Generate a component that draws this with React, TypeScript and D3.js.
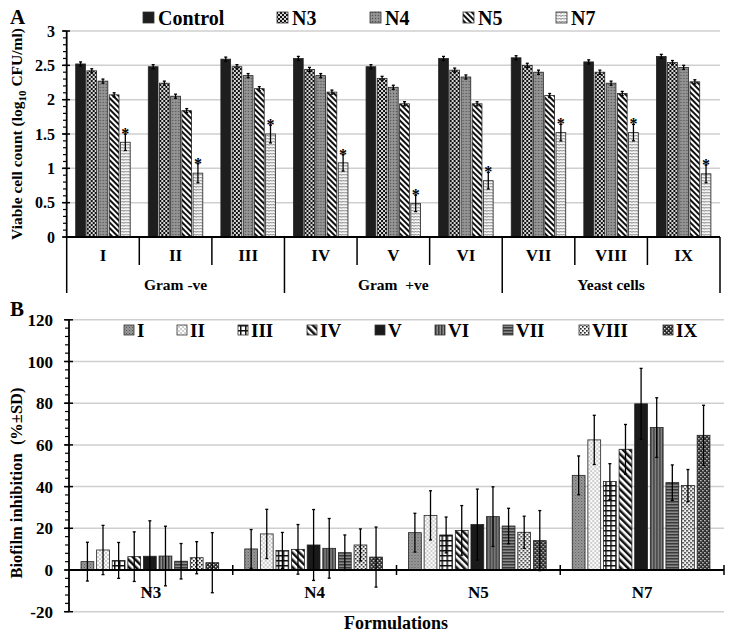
import React from "react";
import * as d3 from "d3";

// ---------- Panel A data ----------
const strainsA = ["I", "II", "III", "IV", "V", "VI", "VII", "VIII", "IX"];
const groupsA = [
  { label: "Gram -ve", from: 0, to: 3 },
  { label: "Gram  +ve", from: 3, to: 6 },
  { label: "Yeast cells", from: 6, to: 9 },
];
const seriesA = ["Control", "N3", "N4", "N5", "N7"];
const controlVals = [2.52, 2.48, 2.59, 2.6, 2.48, 2.6, 2.61, 2.55, 2.63];
const n3Vals = [2.42, 2.24, 2.48, 2.44, 2.31, 2.43, 2.5, 2.4, 2.54];
const n4Vals = [2.27, 2.05, 2.35, 2.35, 2.18, 2.33, 2.4, 2.24, 2.47];
const n5Vals = [2.07, 1.84, 2.16, 2.11, 1.94, 1.94, 2.06, 2.09, 2.26];
const n7Vals = [1.38, 0.93, 1.5, 1.08, 0.49, 0.82, 1.52, 1.52, 0.92];
const smallErrA = [0.03, 0.03, 0.03, 0.03, 0.03, 0.03, 0.03, 0.03, 0.03];
const n7ErrA = [0.12, 0.14, 0.13, 0.12, 0.12, 0.12, 0.12, 0.12, 0.13];
const valsA = [controlVals, n3Vals, n4Vals, n5Vals, n7Vals];
const errsA = [smallErrA, smallErrA, smallErrA, smallErrA, n7ErrA];
const ticksA = [0, 0.5, 1, 1.5, 2, 2.5, 3];

// ---------- Panel B data ----------
const formulations = ["N3", "N4", "N5", "N7"];
const strainsB = ["I", "II", "III", "IV", "V", "VI", "VII", "VIII", "IX"];
const inhibN3 = [4.0, 9.6, 4.6, 6.4, 6.6, 6.7, 4.2, 5.9, 3.5];
const inhibN4 = [10.1, 17.3, 9.4, 9.9, 12.0, 10.4, 8.3, 12.0, 6.2];
const inhibN5 = [17.9, 26.2, 16.8, 19.0, 21.8, 25.6, 21.1, 18.1, 14.1];
const inhibN7 = [45.4, 62.4, 42.4, 57.9, 79.7, 68.3, 41.9, 40.5, 64.6];
const sdB = [9.3, 11.8, 8.6, 11.9, 17.0, 14.3, 8.5, 7.7, 14.4];
const valsB = [inhibN3, inhibN4, inhibN5, inhibN7];
const ticksB = [-20, 0, 20, 40, 60, 80, 100, 120];

const FONT = "'Liberation Serif', 'Times New Roman', serif";

const patA = ["pA0", "pA1", "pA2", "pA3", "pA4"];
const patB = ["pB0", "pB1", "pB2", "pB3", "pB4", "pB5", "pB6", "pB7", "pB8"];
const legendAX = [143, 277, 370, 463, 556];
const legendBX = [124, 177, 238, 307, 375, 435, 503, 579, 663];

export default function App() {
  // Panel A scales
  const xA = d3.scaleBand().domain(strainsA).range([66.7, 720]).padding(0);
  const xAi = d3.scaleBand().domain(seriesA).range([9, 63.5]).paddingInner(0.13);
  const yA = d3.scaleLinear().domain([0, 3]).range([237, 31]);
  const minorA = d3.range(0, 3.0001, 0.1);

  // Panel B scales
  const xB = d3.scaleBand().domain(formulations).range([69, 724]).padding(0);
  const xBi = d3.scaleBand().domain(strainsB).range([12, 149.7]).paddingInner(0.18);
  const yB = d3.scaleLinear().domain([-20, 120]).range([611.7, 319.8]);
  const minorB = d3.range(-20, 120.001, 4);

  const grid = "#cfcfcf";

  return (
    <svg
      width={732}
      height={635}
      viewBox="0 0 732 635"
      style={{ display: "block", position: "absolute", left: 0, top: 0 }}
      fontFamily={FONT}
    >
      <defs>
        {/* Panel A patterns */}
        <pattern id="pA0" width="4" height="4" patternUnits="userSpaceOnUse">
          <rect width="4" height="4" fill="#1e1e1e" />
        </pattern>
        <pattern id="pA1" width="4" height="4" patternUnits="userSpaceOnUse">
          <rect width="4" height="4" fill="#d8d8d8" />
          <rect x="0" y="0" width="2" height="2" fill="#111" />
          <rect x="2" y="2" width="2" height="2" fill="#111" />
        </pattern>
        <pattern id="pA2" width="3" height="3" patternUnits="userSpaceOnUse">
          <rect width="3" height="3" fill="#8c8c8c" />
          <rect x="0" y="0" width="1" height="1" fill="#555" />
          <rect x="1.5" y="1.5" width="1" height="1" fill="#b0b0b0" />
        </pattern>
        <pattern id="pA3" width="4" height="4" patternUnits="userSpaceOnUse" patternTransform="rotate(-45)">
          <rect width="4" height="4" fill="#fff" />
          <rect width="2" height="4" fill="#111" />
        </pattern>
        <pattern id="pA4" width="6" height="6" patternUnits="userSpaceOnUse">
          <rect width="6" height="6" fill="#f4f4f4" />
          <path d="M0,1.5 L1.5,0 L3,1.5 L4.5,0 L6,1.5 M0,4.5 L1.5,3 L3,4.5 L4.5,3 L6,4.5" stroke="#777" strokeWidth="1" fill="none" />
        </pattern>
        {/* Panel B patterns */}
        <pattern id="pB0" width="3" height="3" patternUnits="userSpaceOnUse">
          <rect width="3" height="3" fill="#9a9a9a" />
          <rect x="0" y="0" width="1" height="1" fill="#555" />
          <rect x="1.5" y="1.5" width="1" height="1" fill="#666" />
        </pattern>
        <pattern id="pB1" width="4" height="4" patternUnits="userSpaceOnUse">
          <rect width="4" height="4" fill="#fafafa" />
          <rect x="0" y="0" width="2" height="2" fill="#cfcfcf" />
          <rect x="2" y="2" width="2" height="2" fill="#cfcfcf" />
        </pattern>
        <pattern id="pB2" width="5" height="5" patternUnits="userSpaceOnUse">
          <rect width="5" height="5" fill="#fff" />
          <rect x="0" y="0" width="5" height="1.5" fill="#111" />
          <rect x="0" y="0" width="1.5" height="5" fill="#111" />
        </pattern>
        <pattern id="pB3" width="5" height="5" patternUnits="userSpaceOnUse" patternTransform="rotate(-45)">
          <rect width="5" height="5" fill="#fff" />
          <rect width="2.5" height="5" fill="#111" />
        </pattern>
        <pattern id="pB4" width="4" height="4" patternUnits="userSpaceOnUse">
          <rect width="4" height="4" fill="#1a1a1a" />
        </pattern>
        <pattern id="pB5" width="3" height="3" patternUnits="userSpaceOnUse">
          <rect width="3" height="3" fill="#8a8a8a" />
          <rect x="0" y="0" width="1.5" height="3" fill="#3a3a3a" />
        </pattern>
        <pattern id="pB6" width="3" height="3" patternUnits="userSpaceOnUse">
          <rect width="3" height="3" fill="#8a8a8a" />
          <rect x="0" y="0" width="3" height="1.5" fill="#3a3a3a" />
        </pattern>
        <pattern id="pB7" width="4" height="4" patternUnits="userSpaceOnUse">
          <rect width="4" height="4" fill="#f2f2f2" />
          <rect x="0" y="0" width="1.6" height="1.6" fill="#222" />
          <rect x="2" y="2" width="1.6" height="1.6" fill="#222" />
        </pattern>
        <pattern id="pB8" width="4" height="4" patternUnits="userSpaceOnUse">
          <rect width="4" height="4" fill="#2a2a2a" />
          <rect x="0" y="0" width="1.4" height="1.4" fill="#e0e0e0" />
          <rect x="2" y="2" width="1.4" height="1.4" fill="#e0e0e0" />
        </pattern>
      </defs>
      <rect x="0" y="0" width="732" height="635" fill="#fff" />

      {/* ================= PANEL A ================= */}
      <text x={10} y={24} fontSize={21} fontWeight="bold">A</text>
      {ticksA.filter((t) => t > 0).map((t) => (
        <line key={t} x1={66.7} x2={720} y1={yA(t)} y2={yA(t)} stroke={grid} strokeWidth={1.5} />
      ))}
      {/* legend A */}
      {seriesA.map((s, i) => (
        <g key={s}>
          <rect x={legendAX[i]} y={12} width={11} height={11} fill={`url(#${patA[i]})`} stroke="#333" strokeWidth={0.8} />
          <text x={legendAX[i] + 15} y={24.5} fontSize={20} fontWeight="bold">{s}</text>
        </g>
      ))}
      {/* bars A */}
      {strainsA.map((st, ci) => (
        <g key={st} transform={`translate(${xA(st)},0)`}>
          {seriesA.map((s, si) => {
            const v = valsA[si][ci];
            const e = errsA[si][ci];
            const bx = xAi(s)!;
            const bw = xAi.bandwidth();
            const cx = bx + bw / 2;
            return (
              <g key={s}>
                <rect x={bx} y={yA(v)} width={bw} height={yA(0) - yA(v)} fill={`url(#${patA[si]})`} stroke="#222" strokeWidth={0.8} />
                <line x1={cx} x2={cx} y1={yA(v + e)} y2={yA(v - e)} stroke="#000" strokeWidth={1.3} />
                <line x1={cx - 1.5} x2={cx + 1.5} y1={yA(v + e)} y2={yA(v + e)} stroke="#000" strokeWidth={1.3} />
                <line x1={cx - 1.5} x2={cx + 1.5} y1={yA(v - e)} y2={yA(v - e)} stroke="#000" strokeWidth={1.3} />
                {si === 4 && (
                  <text x={cx} y={yA(v + e) + 5} fontSize={16} fontWeight="bold" textAnchor="middle" fill="#000">*</text>
                )}
              </g>
            );
          })}
        </g>
      ))}
      {/* axis A */}
      <line x1={66.7} x2={66.7} y1={yA(3)} y2={yA(0)} stroke="#000" strokeWidth={1.8} />
      {minorA.map((t, i) => (
        <line key={i} x1={63} x2={66.7} y1={yA(t)} y2={yA(t)} stroke="#000" strokeWidth={1.2} />
      ))}
      {ticksA.map((t) => (
        <g key={t}>
          <line x1={62} x2={70} y1={yA(t)} y2={yA(t)} stroke="#000" strokeWidth={1.5} />
          <text x={55} y={yA(t) + 5.5} fontSize={16} fontWeight="bold" textAnchor="end">{t}</text>
        </g>
      ))}
      <line x1={66.7} x2={720} y1={yA(0)} y2={yA(0)} stroke="#000" strokeWidth={2} />
      {strainsA.map((st, i) => (
        <g key={st}>
          <line x1={xA(st)! + xA.bandwidth()} x2={xA(st)! + xA.bandwidth()} y1={yA(0)} y2={i % 3 === 2 ? 293 : 265} stroke="#000" strokeWidth={1.5} />
          <text x={xA(st)! + xA.bandwidth() / 2} y={261} fontSize={17} fontWeight="bold" textAnchor="middle">{st}</text>
        </g>
      ))}
      <line x1={66.7} x2={66.7} y1={yA(0)} y2={293} stroke="#000" strokeWidth={1.5} />
      {groupsA.map((g) => {
        const x0 = xA(strainsA[g.from])!;
        const x1 = xA(strainsA[g.to - 1])! + xA.bandwidth();
        return (
          <text key={g.label} x={(x0 + x1) / 2} y={290} fontSize={15.5} fontWeight="bold" textAnchor="middle" style={{ whiteSpace: "pre" }}>{g.label}</text>
        );
      })}
      <text transform={`translate(22,${(yA(0) + yA(3)) / 2}) rotate(-90)`} fontSize={15.5} fontWeight="bold" textAnchor="middle">
        Viable cell count (log<tspan fontSize={11} dy={4}>10</tspan><tspan dy={-4}> CFU/ml)</tspan>
      </text>

      {/* ================= PANEL B ================= */}
      <text x={10} y={316} fontSize={21} fontWeight="bold">B</text>
      {ticksB.filter((t) => t !== 0).map((t) => (
        <line key={t} x1={69} x2={724} y1={yB(t)} y2={yB(t)} stroke={grid} strokeWidth={1.5} />
      ))}
      {/* legend B */}
      {strainsB.map((s, i) => (
        <g key={s}>
          <rect x={legendBX[i]} y={325} width={10} height={10} fill={`url(#${patB[i]})`} stroke="#333" strokeWidth={0.8} />
          <text x={legendBX[i] + 13} y={336.5} fontSize={19} fontWeight="bold">{s}</text>
        </g>
      ))}
      {/* bars B */}
      {formulations.map((f, fi) => (
        <g key={f} transform={`translate(${xB(f)},0)`}>
          {strainsB.map((s, si) => {
            const v = valsB[fi][si];
            const e = sdB[si];
            const bx = xBi(s)!;
            const bw = xBi.bandwidth();
            const cx = bx + bw / 2;
            return (
              <g key={s}>
                <rect x={bx} y={yB(v)} width={bw} height={yB(0) - yB(v)} fill={`url(#${patB[si]})`} stroke="#222" strokeWidth={0.8} />
                <line x1={cx} x2={cx} y1={yB(v + e)} y2={yB(v - e)} stroke="#000" strokeWidth={1.3} />
                <line x1={cx - 1.5} x2={cx + 1.5} y1={yB(v + e)} y2={yB(v + e)} stroke="#000" strokeWidth={1.3} />
                <line x1={cx - 1.5} x2={cx + 1.5} y1={yB(v - e)} y2={yB(v - e)} stroke="#000" strokeWidth={1.3} />
              </g>
            );
          })}
        </g>
      ))}
      {/* axis B */}
      <line x1={69} x2={69} y1={yB(120)} y2={yB(-20)} stroke="#000" strokeWidth={1.8} />
      {minorB.map((t, i) => (
        <line key={i} x1={65} x2={69} y1={yB(t)} y2={yB(t)} stroke="#000" strokeWidth={1.2} />
      ))}
      {ticksB.map((t) => (
        <g key={t}>
          <line x1={64} x2={73} y1={yB(t)} y2={yB(t)} stroke="#000" strokeWidth={1.5} />
          <text x={53} y={yB(t) + 6} fontSize={17} fontWeight="bold" textAnchor="end">{t}</text>
        </g>
      ))}
      <line x1={69} x2={724} y1={yB(0)} y2={yB(0)} stroke="#000" strokeWidth={2} />
      {formulations.map((f) => (
        <g key={f}>
          <line x1={xB(f)! + xB.bandwidth()} x2={xB(f)! + xB.bandwidth()} y1={yB(0) - 5} y2={yB(0) + 5} stroke="#000" strokeWidth={1.5} />
          <text x={xB(f)! + xB.bandwidth() / 2} y={598} fontSize={17} fontWeight="bold" textAnchor="middle">{f}</text>
        </g>
      ))}
      <text x={396} y={629} fontSize={18} fontWeight="bold" textAnchor="middle">Formulations</text>
      <text transform={`translate(22,483) rotate(-90)`} fontSize={16.5} fontWeight="bold" textAnchor="middle" style={{ whiteSpace: "pre" }}>
        Biofilm inhibition  (%±SD)
      </text>
    </svg>
  );
}
